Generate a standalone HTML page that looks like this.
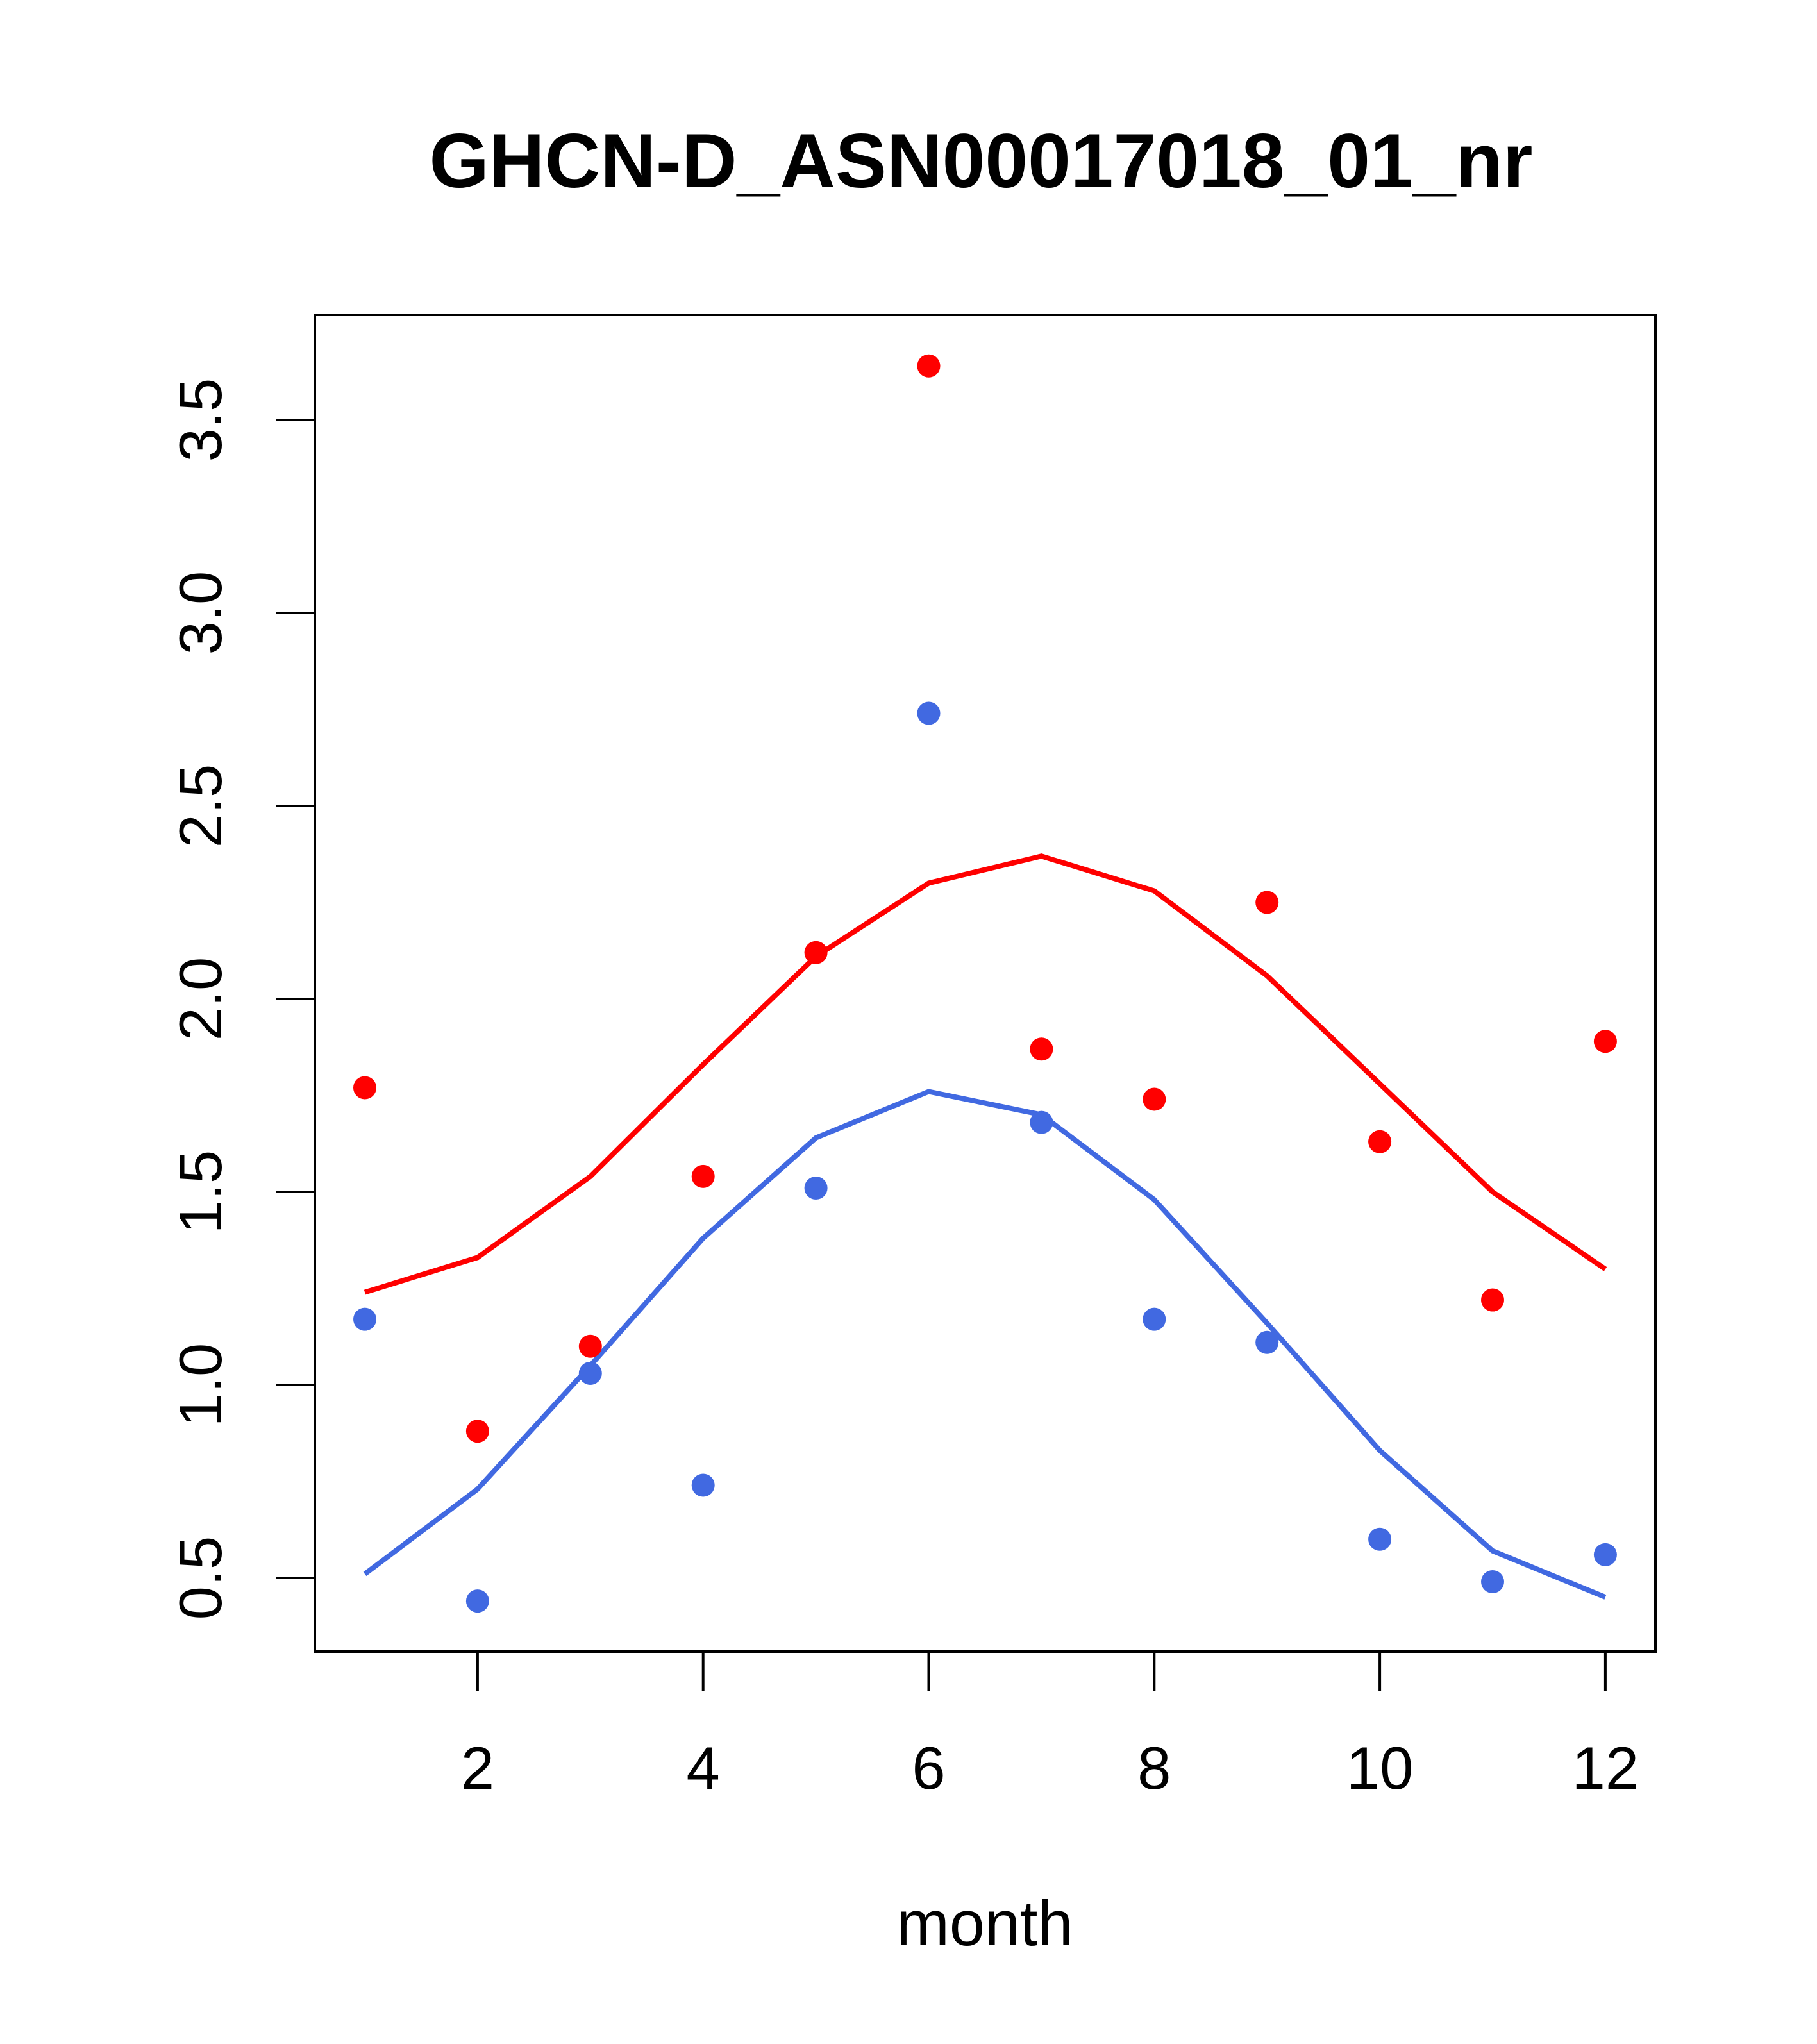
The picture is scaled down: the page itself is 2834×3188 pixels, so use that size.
<!DOCTYPE html>
<html><head><meta charset="utf-8"><style>
html,body{margin:0;padding:0;background:#fff;}
svg{display:block;font-family:"Liberation Sans",sans-serif;}
</style></head><body>
<svg id="chart" width="2834" height="3188" viewBox="0 0 2834 3188">
<text x="1530" y="292" text-anchor="middle" font-size="120" font-weight="bold">GHCN-D_ASN00017018_01_nr</text>
<rect x="491" y="491" width="2091" height="2085" fill="none" stroke="#000" stroke-width="4"/>
<g id="xaxis"></g>
<g id="yaxis"></g>
<text x="1536" y="3034" text-anchor="middle" font-size="99">month</text>
<g id="series"></g>
</svg>
<script>
const months=[1,2,3,4,5,6,7,8,9,10,11,12];
const redPoints=[1.77,0.88,1.10,1.54,2.12,3.64,1.87,1.74,2.25,1.63,1.22,1.89];
const bluePoints=[1.17,0.44,1.03,0.74,1.51,2.74,1.68,1.17,1.11,0.60,0.49,0.56];
const redLine=[1.24,1.33,1.54,1.83,2.11,2.30,2.37,2.28,2.06,1.78,1.50,1.30];
const blueLine=[0.51,0.73,1.05,1.38,1.64,1.76,1.70,1.48,1.16,0.83,0.57,0.45];
const xTicks=[2,4,6,8,10,12];
const yTicks=[0.5,1.0,1.5,2.0,2.5,3.0,3.5];
const yTickLabels=["0.5","1.0","1.5","2.0","2.5","3.0","3.5"];

const NS="http://www.w3.org/2000/svg";
function xs(m){return 569+(m-1)*175.9;}
function ys(v){return 956-(v-3)*602;}
function mk(tag,attrs,parent){const e=document.createElementNS(NS,tag);for(const k in attrs)e.setAttribute(k,attrs[k]);parent.appendChild(e);return e;}
const xa=document.getElementById('xaxis'),ya=document.getElementById('yaxis'),sg=document.getElementById('series');
xTicks.forEach(t=>{
  const l=mk('line',{x1:xs(t),x2:xs(t),y1:2576,y2:2637,stroke:'#000','stroke-width':4},xa);
  
  
  const tx=mk('text',{x:xs(t),y:2790,'text-anchor':'middle','font-size':94},xa);
  tx.textContent=String(t);
  
  
});
yTicks.forEach((t,i)=>{
  const l=mk('line',{x1:430,x2:491,y1:ys(t),y2:ys(t),stroke:'#000','stroke-width':4},ya);
  
  
  const tx=mk('text',{x:345,y:ys(t),'text-anchor':'middle','font-size':94,transform:`rotate(-90 345 ${ys(t)})`},ya);
  tx.textContent=yTickLabels[i];
  
  
});
function line(vals,color,name){
  const p=mk('polyline',{points:vals.map((v,i)=>xs(months[i])+','+ys(v)).join(' '),fill:'none',stroke:color,'stroke-width':8},sg);
  
  
}
function pts(vals,color,name){
  vals.forEach((v,i)=>{
    const c=mk('circle',{cx:xs(months[i]),cy:ys(v),r:18,fill:color},sg);
    
    
  });
}
line(redLine,'#ff0000','red-line');
line(blueLine,'#4169e1','blue-line');
pts(redPoints,'#ff0000','red-point');
pts(bluePoints,'#4169e1','blue-point');
</script>
</body></html>
